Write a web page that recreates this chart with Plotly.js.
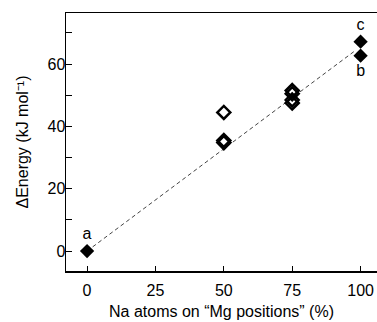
<!DOCTYPE html>
<html>
<head>
<meta charset="utf-8">
<script src="https://cdn.plot.ly/plotly-3.0.1.min.js"></script>
<style>html,body{margin:0;padding:0;background:#fff;}#chart{width:377px;height:322px;}</style>
</head>
<body>
<div id="chart"></div>
<script>
// Filled diamonds (end members)
const filledX = [0, 100, 100];
const filledY = [0, 62.7, 67.2];
const filledLabels = ["a", "b", "c"];
// Open diamonds (mixed configurations)
const openX = [50, 50, 50, 75, 75, 75, 75];
const openY = [44.5, 35.5, 34.8, 51.5, 50.5, 48.5, 47.5];
// Dashed trend line
const lineX = [0, 98];
const lineY = [0, 64.3];
const xTicks = [0, 25, 50, 75, 100];
const yTicks = [0, 20, 40, 60];

const font = {family: "Liberation Sans, Arial, sans-serif", size: 16, color: "#000"};

const traces = [
  {x: lineX, y: lineY, mode: "lines", line: {color: "#444", width: 1, dash: "4px,3px"}, hoverinfo: "skip"},
  {x: openX, y: openY, mode: "markers", marker: {symbol: "diamond-open", size: 10, color: "#000", line: {width: 2.5, color: "#000"}}},
  {x: filledX, y: filledY, mode: "markers+text", text: filledLabels,
   textposition: ["top center", "bottom center", "top center"],
   textfont: {family: font.family, size: 16, color: "#000"},
   marker: {symbol: "diamond", size: 11, color: "#000"}}
];

const layout = {
  width: 377, height: 322,
  margin: {l: 66, r: 0, t: 13, b: 51},
  showlegend: false,
  paper_bgcolor: "#fff", plot_bgcolor: "#fff",
  font: font,
  xaxis: {
    range: [-7.7, 106], tickvals: xTicks, ticktext: xTicks.map(String),
    ticks: "inside", ticklen: 5, tickcolor: "#000", tickwidth: 1,
    ticklabelstandoff: 4,
    showline: true, linecolor: "#000", linewidth: 1.5, mirror: true,
    showgrid: false, zeroline: false,
    title: {text: "Na atoms on \u201cMg positions\u201d (%)", font: font, standoff: 8}
  },
  yaxis: {
    range: [-6.4, 76.4], tickvals: yTicks, ticktext: yTicks.map(String),
    ticks: "inside", ticklen: 6, tickcolor: "#000", tickwidth: 1,
    ticklabelstandoff: -4,
    minor: {tickvals: [10, 30, 50, 70], ticks: "inside", ticklen: 6, tickcolor: "#000", showgrid: false},
    showline: true, linecolor: "#000", linewidth: 1.5,
    showgrid: false, zeroline: false,
    title: {text: "\u0394Energy (kJ mol\u207b\u00b9)", font: font, standoff: 15}
  }
};

Plotly.newPlot("chart", traces, layout, {staticPlot: true, displayModeBar: false});
</script>
</body>
</html>
